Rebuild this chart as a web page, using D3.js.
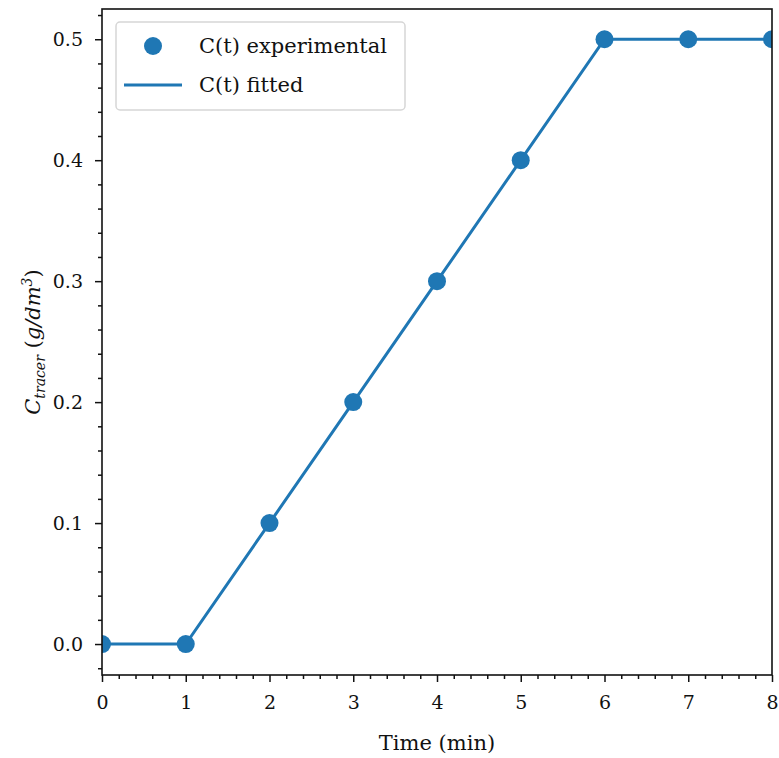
<!DOCTYPE html>
<html>
<head>
<meta charset="utf-8">
<script src="https://cdn.jsdelivr.net/npm/d3@7"></script>
<style>
  body { margin: 0; background: #fff; }
  svg text { font-family: "DejaVu Serif", serif; fill: #111; }
</style>
</head>
<body>
<svg id="chart" width="779" height="758"></svg>
<script>
// data
const timeMin = [0, 1, 2, 3, 4, 5, 6, 7, 8];
const cExperimental = [0, 0, 0.1, 0.2, 0.3, 0.4, 0.5, 0.5, 0.5];
const cFitted = [0, 0, 0.1, 0.2, 0.3, 0.4, 0.5, 0.5, 0.5];
const xTicks = [0, 1, 2, 3, 4, 5, 6, 7, 8];
const yTicks = [0, 0.1, 0.2, 0.3, 0.4, 0.5];

const BLUE = '#1f77b4';
const margin = { left: 102, right: 7, top: 9, bottom: 83 };
const W = 779, H = 758;

const svg = d3.select('#chart');

const x = d3.scaleLinear().domain([0, 8]).range([margin.left, W - margin.right]);
const y = d3.scaleLinear().domain([-0.0256, 0.525]).range([H - margin.bottom, margin.top]);

// clip for data marks
svg.append('clipPath').attr('id', 'plot-clip')
  .append('rect')
  .attr('x', margin.left).attr('y', margin.top)
  .attr('width', W - margin.left - margin.right)
  .attr('height', H - margin.top - margin.bottom);

const plot = svg.append('g').attr('clip-path', 'url(#plot-clip)');

const pts = timeMin.map((t, i) => ({ t, c: cFitted[i] }));
plot.append('path')
  .datum(pts)
  .attr('fill', 'none')
  .attr('stroke', BLUE)
  .attr('stroke-width', 3)
  .attr('d', d3.line().x(d => x(d.t)).y(d => y(d.c)));

plot.selectAll('circle')
  .data(timeMin.map((t, i) => ({ t, c: cExperimental[i] })))
  .join('circle')
  .attr('cx', d => x(d.t))
  .attr('cy', d => y(d.c))
  .attr('r', 9)
  .attr('fill', BLUE);

// axes
const xMinor = d3.range(0, 8.001, 0.2).filter(v => Math.abs(v - Math.round(v)) > 1e-6);
const yMinor = d3.range(-0.02, 0.521, 0.02).filter(v => Math.abs(v * 10 - Math.round(v * 10)) > 1e-6);

const xAxisG = svg.append('g').attr('transform', `translate(0,${H - margin.bottom})`);
xAxisG.call(d3.axisBottom(x).tickValues(xMinor).tickSize(4).tickFormat(''));
xAxisG.call(g => g.select('.domain').remove());
const xMajor = svg.append('g').attr('transform', `translate(0,${H - margin.bottom})`)
  .call(d3.axisBottom(x).tickValues(xTicks).tickSize(7).tickPadding(14).tickFormat(d3.format('d')));
xMajor.select('.domain').remove();

const yAxisG = svg.append('g').attr('transform', `translate(${margin.left},0)`);
yAxisG.call(d3.axisLeft(y).tickValues(yMinor).tickSize(4).tickFormat(''));
yAxisG.call(g => g.select('.domain').remove());
const yMajor = svg.append('g').attr('transform', `translate(${margin.left},0)`)
  .call(d3.axisLeft(y).tickValues(yTicks).tickSize(7).tickPadding(12).tickFormat(d3.format('.1f')));
yMajor.select('.domain').remove();

svg.selectAll('.tick line').attr('stroke', '#111').attr('stroke-width', 1.5);
svg.selectAll('.tick text').attr('font-size', 19).style('font-family', '"DejaVu Serif", serif');

// frame
svg.append('rect')
  .attr('x', margin.left).attr('y', margin.top)
  .attr('width', W - margin.left - margin.right)
  .attr('height', H - margin.top - margin.bottom)
  .attr('fill', 'none').attr('stroke', '#111').attr('stroke-width', 1.6);

// axis labels
svg.append('text')
  .attr('x', (margin.left + W - margin.right) / 2)
  .attr('y', 750)
  .attr('text-anchor', 'middle')
  .attr('font-size', 21)
  .text('Time (min)');

const yl = svg.append('text')
  .attr('transform', `translate(40,${(margin.top + H - margin.bottom) / 2}) rotate(-90)`)
  .attr('text-anchor', 'middle')
  .attr('font-size', 21);
yl.append('tspan').attr('font-style', 'italic').text('C');
yl.append('tspan').attr('font-style', 'italic').attr('font-size', 14).attr('dy', 5).text('tracer');
yl.append('tspan').attr('dy', -5).text(' (');
yl.append('tspan').attr('font-style', 'italic').text('g/dm');
yl.append('tspan').attr('font-style', 'italic').attr('font-size', 14).attr('dy', -8).text('3');
yl.append('tspan').attr('dy', 8).text(')');

// legend
const lg = svg.append('g');
lg.append('rect')
  .attr('x', 116).attr('y', 22).attr('width', 289).attr('height', 88)
  .attr('rx', 4).attr('fill', '#fff').attr('fill-opacity', 0.8)
  .attr('stroke', '#d6d6d6').attr('stroke-width', 1.5);
lg.append('circle').attr('cx', 153).attr('cy', 46).attr('r', 9).attr('fill', BLUE);
lg.append('line').attr('x1', 124).attr('x2', 182).attr('y1', 85).attr('y2', 85)
  .attr('stroke', BLUE).attr('stroke-width', 3);
lg.append('text').attr('x', 199).attr('y', 53).attr('font-size', 21).text('C(t) experimental');
lg.append('text').attr('x', 199).attr('y', 92).attr('font-size', 21).text('C(t) fitted');
</script>
</body>
</html>
